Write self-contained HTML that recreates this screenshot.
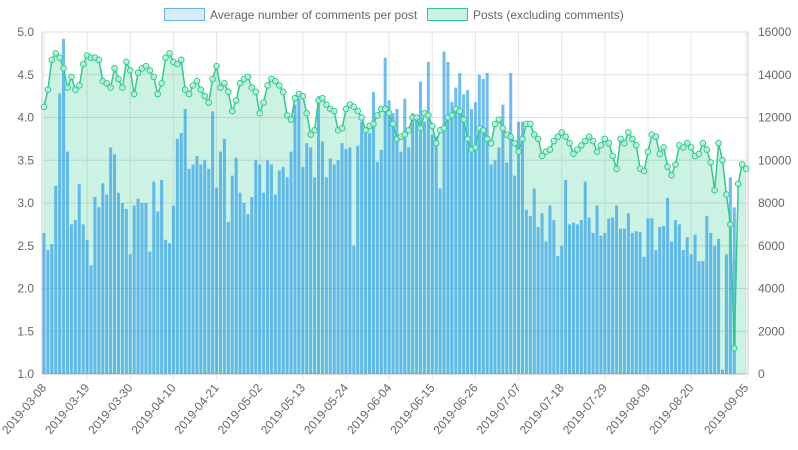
<!DOCTYPE html>
<html><head><meta charset="utf-8"><style>
html,body{margin:0;padding:0;background:#fff;}
svg{display:block;font-family:"Liberation Sans",sans-serif;}
</style></head><body>
<svg id="chart" width="798" height="450"></svg>
<script>
const startDate = "2019-03-08";
const missingDates = ["2019-08-24","2019-08-25"];
const avgComments = [2.65,2.45,2.52,3.2,4.28,4.92,3.6,2.75,2.8,3.22,2.75,2.57,2.27,3.07,2.95,3.23,3.1,3.65,3.57,3.12,3.0,
2.93,2.4,2.97,3.05,3.0,3.0,2.43,3.25,2.9,3.27,2.57,2.53,2.97,3.75,3.82,4.1,3.4,3.45,3.55,3.45,3.5,
3.4,4.07,3.18,3.6,3.75,2.78,3.32,3.53,3.12,3.0,2.87,3.07,3.5,3.45,3.12,3.5,3.45,3.1,3.38,3.42,3.3,
3.6,4.15,4.22,3.42,3.7,3.65,3.3,4.25,3.72,3.3,3.52,3.45,3.5,3.7,3.63,3.65,2.5,3.67,3.95,3.85,
3.82,4.3,3.48,3.62,4.7,4.2,4.05,4.1,3.6,4.22,3.65,4.05,4.0,4.42,3.95,4.65,3.8,3.78,3.17,4.77,
4.65,4.18,4.35,4.52,4.27,4.32,4.1,4.18,4.5,4.45,4.52,3.45,3.5,3.65,4.15,3.47,4.52,3.32,3.95,3.95,
2.92,2.85,3.17,2.72,2.88,2.55,2.97,2.8,2.38,2.5,3.27,2.75,2.77,2.75,2.8,3.25,2.83,2.65,2.97,2.62,2.65,
2.82,2.83,2.97,2.7,2.7,2.88,2.65,2.67,2.66,2.37,2.82,2.82,2.45,2.72,2.73,3.06,2.55,2.8,2.75,2.45,2.6,
2.4,2.63,2.32,2.32,2.85,2.65,2.5,2.58,1.05,2.4,3.3,2.95];
const postsK = [12.5,13.3,14.7,15.0,14.8,14.3,13.4,13.9,13.3,13.5,
14.5,14.9,14.8,14.8,14.7,13.7,13.6,13.4,14.3,
13.8,13.4,14.6,14.2,13.1,14.1,14.3,14.4,14.2,
13.9,13.1,13.6,14.8,15.0,14.6,14.5,14.7,13.3,13.1,
13.5,13.7,13.3,13.0,12.7,13.8,14.4,13.4,13.6,
13.2,12.3,12.8,13.6,13.8,13.9,13.4,13.2,12.2,12.7,
13.5,13.8,13.7,13.5,13.2,12.1,11.9,12.9,13.1,13.0,
12.2,11.2,11.4,12.8,12.9,12.6,12.4,12.3,11.4,
11.5,12.4,12.6,12.5,12.3,12.0,11.4,11.6,11.7,
12.1,12.4,12.4,12.2,11.7,11.0,11.1,11.2,11.4,12.0,
12.0,11.5,12.2,12.1,11.6,10.8,11.4,11.5,
12.0,12.1,12.4,12.3,11.9,11.0,10.5,10.6,11.5,
11.4,11.0,10.8,11.7,11.9,11.5,11.2,11.1,10.8,10.4,
11.0,11.7,11.7,11.2,11.0,10.2,10.4,10.5,10.9,
11.1,11.3,11.1,10.8,10.3,10.5,10.7,10.9,11.1,10.9,
10.4,10.7,11.0,10.8,10.2,9.6,11.0,10.8,
11.3,11.0,10.7,9.6,9.5,10.4,11.2,11.1,10.3,10.6,
9.7,9.3,9.8,10.7,10.6,10.8,10.6,10.2,10.3,
10.8,10.5,9.9,8.6,10.8,10.0,8.4,7.0,1.2,8.9,9.8,9.6];
const leftTicks = [1.0,1.5,2.0,2.5,3.0,3.5,4.0,4.5,5.0];
const rightTicks = [0,2000,4000,6000,8000,10000,12000,14000,16000];

const svg = document.getElementById('chart');
const NS = 'http://www.w3.org/2000/svg';
const L = 42, R = 748, T = 32, B = 374;
const n = Math.max(avgComments.length, postsK.length);
const categories = [];
(function(){
  const d = new Date(startDate + "T00:00:00Z");
  while (categories.length < n){
    const s = d.toISOString().slice(0, 10);
    if (missingDates.indexOf(s) < 0) categories.push(s);
    d.setUTCDate(d.getUTCDate() + 1);
  }
})();
const step = (R - L) / n;
function xAt(i){ return L + step * (i + 0.5); }
function yLeft(v){ return B - (v - 1) / 4 * (B - T); }
function yRight(v){ return B - v / 16000 * (B - T); }
function mk(tag, attrs, parent){
  const e = document.createElementNS(NS, tag);
  for (const k in attrs) e.setAttribute(k, attrs[k]);
  (parent || svg).appendChild(e);
  return e;
}

leftTicks.forEach(function(t, k){
  const y = yLeft(t);
  const g = mk('line', {x1:L, x2:R, y1:y, y2:y, stroke: k===0 ? '#bbb' : '#ddd', 'stroke-width':1});
  
  
  const tx = mk('text', {x:L-8, y:y+4, 'text-anchor':'end', 'font-size':12, fill:'#666'});
  tx.textContent = t.toFixed(1);
  
  
});
rightTicks.forEach(function(t){
  const y = yRight(t);
  const tx = mk('text', {x:R+10, y:y+4, 'text-anchor':'start', 'font-size':12, fill:'#666'});
  tx.textContent = String(t);
  
  
});
const labelIdx = [];
for (let i = 0; i < n; i += 11){ if (n - 1 - i >= 8) labelIdx.push(i); }
labelIdx.push(n - 1);
labelIdx.forEach(function(i){
  const x = xAt(i);
  const g = mk('line', {x1:x, x2:x, y1:T, y2:B+6, stroke:'#e6e6e6', 'stroke-width':1});
  
  
  const tx = mk('text', {x:x+3, y:B+14, 'text-anchor':'end', 'font-size':12, fill:'#666', transform:'rotate(-50 '+(x+3)+' '+(B+14)+')'});
  tx.textContent = categories[i];
  
  
});
mk('line', {x1:L, x2:L, y1:T, y2:B, stroke:'#ccc'});
mk('line', {x1:R, x2:R, y1:T, y2:B, stroke:'#ccc'});

let pts = postsK.map(function(v, i){ return xAt(i).toFixed(1) + ',' + yRight(v*1000).toFixed(1); });
const area = mk('polygon', {points: xAt(0)+','+B+' '+pts.join(' ')+' '+xAt(postsK.length-1)+','+B, fill:'rgba(46,204,140,0.25)'});



avgComments.forEach(function(v, i){
  const y = yLeft(v);
  const b = mk('rect', {x:xAt(i)-1.5, y:y, width:3, height:B-y, fill:'rgba(54,162,235,0.72)'});
  
  
});

const line = mk('polyline', {points: pts.join(' '), fill:'none', stroke:'#2ecc8a', 'stroke-width':1.5});


postsK.forEach(function(v, i){
  const c = mk('circle', {cx:xAt(i), cy:yRight(v*1000), r:2.8, fill:'rgba(200,242,225,0.8)', stroke:'#2ecc8a', 'stroke-width':1});
  
  
});

const lg = mk('g', {});


const r1 = mk('rect', {x:164.5, y:8.5, width:40, height:12, fill:'rgba(54,162,235,0.2)', stroke:'#6ab0e8'}, lg);


const t1 = mk('text', {x:210, y:19, 'font-size':12, fill:'#666'}, lg);
t1.textContent = 'Average number of comments per post';


const r2 = mk('rect', {x:427.5, y:8.5, width:40, height:12, fill:'rgba(46,204,140,0.25)', stroke:'#2ecc8a'}, lg);


const t2 = mk('text', {x:473, y:19, 'font-size':12, fill:'#666'}, lg);
t2.textContent = 'Posts (excluding comments)';


</script>
</body></html>
